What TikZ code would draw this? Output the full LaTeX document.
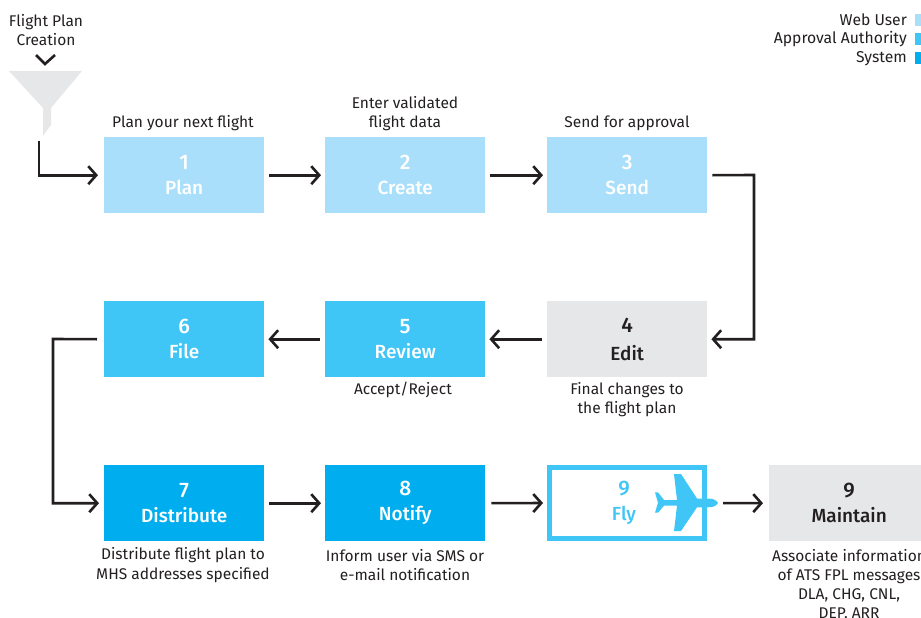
\documentclass[tikz,border=0pt]{standalone}
\usepackage{fontspec}
\setmainfont{Fira Sans}
\newfontfamily\medfont{Fira Sans Medium}
\usetikzlibrary{arrows.meta}
\definecolor{webuser}{HTML}{A9DFFB}
\definecolor{authority}{HTML}{40C6F6}
\definecolor{systemc}{HTML}{00AEEF}
\definecolor{greyc}{HTML}{E6E7E8}
\definecolor{ink}{HTML}{231F20}
\newcommand{\numf}[1]{{\fontsize{21}{25}\selectfont #1}}
\tikzset{
  x=1pt,y=-1pt,
  stepbox/.style={minimum width=160pt,minimum height=76pt,inner sep=0pt,anchor=north west,align=center,text=white,font=\medfont\fontsize{19}{25}\selectfont},
  greybox/.style={stepbox,fill=greyc,text=ink},
  captext/.style={align=center,text=ink,font=\fontsize{15.5}{19.2}\selectfont,inner sep=0pt},
  legendtext/.style={anchor=east,text=ink,font=\fontsize{15.7}{19}\selectfont,inner sep=0pt},
  keybox/.style={minimum width=6pt,minimum height=12pt,inner sep=0pt,anchor=west},
  link/.style={draw=ink,line width=2.6pt,-{Straight Barb[length=8pt,width=18pt,line width=2.6pt]}},
}
\begin{document}
\begin{tikzpicture}
\useasboundingbox (0,0) rectangle (921,618);
\clip (0,0) rectangle (921,618);
% boxes
\node[stepbox,fill=webuser] (n1) at (104,137) {\numf{1}\\Plan};
\node[stepbox,fill=webuser] (n2) at (325,137) {\numf{2}\\Create};
\node[stepbox,fill=webuser] (n3) at (547,137) {\numf{3}\\Send};
\node[greybox] (n4) at (547,301) {\numf{4}\\[3pt]Edit};
\node[stepbox,fill=authority] (n5) at (325,301) {\numf{5}\\Review};
\node[stepbox,fill=authority] (n6) at (104,301) {\numf{6}\\File};
\node[stepbox,fill=systemc] (n7) at (104,465) {\numf{7}\\Distribute};
\node[stepbox,fill=systemc] (n8) at (325,465) {\numf{8}\\Notify};
\node[stepbox,draw=authority,line width=5pt,minimum width=155pt,minimum height=71pt,text=authority] (n9) at (547,465) {\hspace*{-6pt}\numf{9}\\\hspace*{-6pt}Fly};
\node[greybox] (n10) at (769,465) {\numf{9}\\Maintain};
% plane
\fill[authority] (718,503) .. controls (716,499.5) and (712,498.5) .. (708,498.5) -- (697,498.5) -- (681,474) -- (674,474) -- (677,500) -- (664,500) -- (658,492.3) -- (655,492.3) -- (658,502.8) -- (655,512.7) -- (658,512.7) -- (664,505.7) -- (677,505.7) -- (674,531) -- (681,531) -- (697,507.3) -- (708,507.3) .. controls (712,507.3) and (716,506.5) .. (718,503) -- cycle;
% funnel
\fill[greyc] (9,71) -- (82,71) -- (51,108) -- (51,125) -- (43,136) -- (43,108) -- cycle;
% captions
\node[captext] (t0) at (46,30) {Flight Plan\\Creation};
\coordinate (cl) at (36,55);
\coordinate (cm) at (45,64);
\coordinate (cr) at (55,55);
\draw[ink,line width=2.6pt] (cl) -- (cm) -- (cr);
\node[captext] (c1) at (183,123) {Plan your next flight};
\node[captext] (c2) at (405,114) {Enter validated\\flight data};
\node[captext] (c3) at (627,123) {Send for approval};
\node[captext] (c4) at (627,400) {Final changes to\\the flight plan};
\node[captext] (c5) at (403,390) {Accept/Reject};
\node[captext] (c7) at (183,565) {Distribute flight plan to\\MHS addresses specified};
\node[captext] (c8) at (405,565) {Inform user via SMS or\\e-mail notification};
\node[captext] (c10) at (849,584) {Associate information\\of ATS FPL messages\\DLA, CHG, CNL,\\DEP. ARR};
% legend
\node[legendtext] (l1) at (907,20) {Web User};
\node[legendtext] (l2) at (907,39) {Approval Authority};
\node[legendtext] (l3) at (907,59) {System};
\node[keybox,fill=webuser] (k1) at (915,20) {};
\node[keybox,fill=authority] (k2) at (915,39) {};
\node[keybox,fill=systemc] (k3) at (915,58) {};
% connectors
\coordinate (s0) at (39,141);
\draw[link,shorten >=6pt] (s0) |- (n1.west);
\draw[link,shorten <=5pt,shorten >=4pt] (n1.east) -- (n2.west);
\draw[link,shorten <=5pt,shorten >=4pt] (n2.east) -- (n3.west);
\coordinate (b34) at (754,175);
\draw[link,shorten >=4pt] ([xshift=5pt]n3.east) -- (b34) |- (n4.east);
\draw[link,shorten <=5pt,shorten >=4pt] (n4.west) -- (n5.east);
\draw[link,shorten <=5pt,shorten >=4pt] (n5.west) -- (n6.east);
\coordinate (b67) at (53,339);
\draw[link,shorten >=5pt] ([xshift=-7pt]n6.west) -- (b67) |- (n7.west);
\draw[link,shorten <=5pt,shorten >=4pt] (n7.east) -- (n8.west);
\draw[link,shorten <=6pt,shorten >=4pt] (n8.east) -- (n9.west);
\draw[link,shorten <=16pt,shorten >=6pt] (n9.east) -- (n10.west);
\end{tikzpicture}
\end{document}
